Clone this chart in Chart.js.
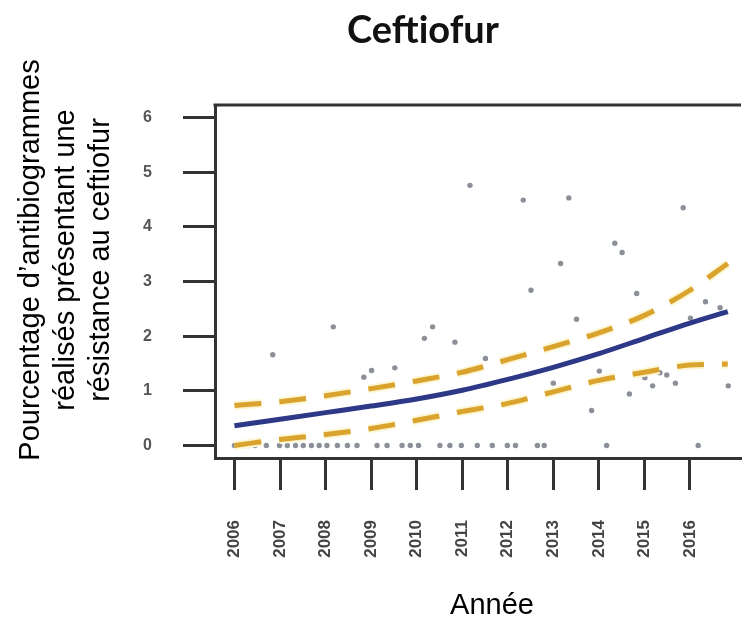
<!DOCTYPE html>
<html>
<head>
<meta charset="utf-8">
<script src="https://cdn.jsdelivr.net/npm/chart.js@4.4.1/dist/chart.umd.min.js"></script>
<style>
  html, body { margin: 0; padding: 0; background: #fff; }
  #wrap { width: 745px; height: 619px; }
</style>
</head>
<body>
<div id="wrap"><canvas id="chart" width="745" height="619"></canvas></div>
<script>
// Ceftiofur - resistance trend (points + fitted curve with confidence band)

// axis ticks
const xTicks = [2006, 2007, 2008, 2009, 2010, 2011, 2012, 2013, 2014, 2015, 2016];
const yTicks = [0, 1, 2, 3, 4, 5, 6];

const obsYears = [
  2006.0, 2006.15, 2006.3, 2006.45, 2006.7, 2006.84,
  2006.99, 2007.16, 2007.34, 2007.51, 2007.69, 2007.86, 2008.03,
  2008.17, 2008.26, 2008.48, 2008.69, 2008.84, 2009.01, 2009.13, 2009.35, 2009.52,
  2009.68, 2009.86, 2010.04, 2010.17, 2010.35, 2010.51, 2010.73, 2010.84, 2010.98,
  2011.17, 2011.33, 2011.51, 2011.66, 2011.99, 2012.17, 2012.34, 2012.51, 2012.65, 2012.8,
  2013.0, 2013.16, 2013.34, 2013.51, 2013.84, 2014.01, 2014.17, 2014.35, 2014.51, 2014.67, 2014.83,
  2015.01, 2015.18, 2015.34, 2015.49, 2015.68, 2015.85, 2016.01, 2016.18, 2016.34, 2016.66, 2016.84
];
const obsValues = [
  0, 0, 0, 0, 0, 1.66,
  0, 0, 0, 0, 0, 0, 0,
  2.17, 0, 0, 0, 1.25, 1.37, 0, 0, 1.42,
  0, 0, 0, 1.96, 2.17, 0, 0, 1.89, 0,
  4.76, 0, 1.59, 0, 0, 0, 4.49, 2.84, 0, 0,
  1.14, 3.33, 4.53, 2.31, 0.64, 1.36, 0, 3.70, 3.53, 0.94, 2.78,
  1.24, 1.09, 1.33, 1.29, 1.14, 4.35, 2.33, 0, 2.63, 2.52, 1.09
];

// fitted trend and confidence limits
const fitYears = [2006, 2007, 2008, 2009, 2010, 2011, 2012, 2013, 2014, 2015, 2016, 2016.83];
const fitMid   = [0.36, 0.48, 0.60, 0.72, 0.85, 1.01, 1.21, 1.43, 1.68, 1.96, 2.24, 2.45];
const fitUpper = [0.73, 0.80, 0.91, 1.04, 1.18, 1.34, 1.57, 1.81, 2.06, 2.38, 2.84, 3.33];
const fitLower = [0.00, 0.11, 0.20, 0.31, 0.46, 0.62, 0.77, 0.98, 1.19, 1.34, 1.47, 1.49];

const toXY = (xs, ys) => xs.map((x, i) => ({ x: x, y: ys[i] }));

const AXIS = '#333333';
const GOLD = '#d9a32e';
const GLOW = '#fdf6d4';
const dash = [27, 18];

// frame top line + free-standing texts
const decor = {
  id: 'decor',
  afterDraw(chart) {
    const { ctx, chartArea } = chart;
    ctx.save();
    ctx.strokeStyle = AXIS;
    ctx.lineWidth = 3;
    ctx.beginPath();
    ctx.moveTo(chartArea.left - 1.5, chartArea.top);
    ctx.lineTo(chartArea.right, chartArea.top);
    ctx.stroke();

    ctx.fillStyle = '#111';
    ctx.textAlign = 'center';
    ctx.textBaseline = 'alphabetic';
    ctx.font = 'bold 38px Lato, "Open Sans", sans-serif';
    ctx.fillText('Ceftiofur', 423, 43);

    ctx.fillStyle = '#000';
    ctx.font = '29px "Liberation Sans", Arial, sans-serif';
    ctx.fillText('Année', 492, 614);

    const lines = ['Pourcentage d’antibiogrammes', 'réalisés présentant une', 'résistance au ceftiofur'];
    const xs = [31, 66, 101];
    ctx.textBaseline = 'middle';
    lines.forEach((t, i) => {
      ctx.save();
      ctx.translate(xs[i], 260);
      ctx.rotate(-Math.PI / 2);
      ctx.fillText(t, 0, 0);
      ctx.restore();
    });
    ctx.restore();
  }
};

new Chart(document.getElementById('chart'), {
  type: 'scatter',
  data: {
    datasets: [
      {
        type: 'line', data: toXY(fitYears, fitMid), order: 1,
        borderColor: '#2d3987', borderWidth: 5, pointRadius: 0,
        cubicInterpolationMode: 'monotone', fill: false
      },
      {
        type: 'line', data: toXY(fitYears, fitUpper), order: 2,
        borderColor: GOLD, borderWidth: 5, borderDash: dash, pointRadius: 0,
        cubicInterpolationMode: 'monotone', fill: false
      },
      {
        type: 'line', data: toXY(fitYears, fitLower), order: 2,
        borderColor: GOLD, borderWidth: 5, borderDash: dash, pointRadius: 0,
        cubicInterpolationMode: 'monotone', fill: false
      },
      {
        type: 'line', data: toXY(fitYears, fitUpper), order: 3,
        borderColor: GLOW, borderWidth: 9, borderDash: dash, pointRadius: 0,
        cubicInterpolationMode: 'monotone', fill: false
      },
      {
        type: 'line', data: toXY(fitYears, fitLower), order: 3,
        borderColor: GLOW, borderWidth: 9, borderDash: dash, pointRadius: 0,
        cubicInterpolationMode: 'monotone', fill: false
      },
      {
        data: toXY(obsYears, obsValues), order: 4,
        pointRadius: 2.7, pointBackgroundColor: '#8b9098', pointBorderWidth: 0
      }
    ]
  },
  options: {
    responsive: false,
    animation: false,
    devicePixelRatio: 1,
    layout: { padding: { top: 105, left: 0, right: 0, bottom: 0 } },
    plugins: { legend: { display: false }, tooltip: { enabled: false } },
    scales: {
      x: {
        type: 'linear', min: 2005.573, max: 2017.12,
        afterBuildTicks: s => { s.ticks = xTicks.map(v => ({ value: v })); },
        afterFit: s => { s.height = 161; },
        border: { color: AXIS, width: 3 },
        grid: { drawOnChartArea: false, tickLength: 32, tickWidth: 3, tickColor: AXIS },
        ticks: {
          autoSkip: false, minRotation: 90, maxRotation: 90, padding: 30,
          color: '#444', font: { family: '"Liberation Sans", Arial, sans-serif', size: 17, weight: 'bold' },
          callback: v => String(v)
        }
      },
      y: {
        min: -0.23, max: 6.23,
        afterBuildTicks: s => { s.ticks = yTicks.map(v => ({ value: v })); },
        afterFit: s => { s.width = 215; },
        border: { color: AXIS, width: 3 },
        grid: { drawOnChartArea: false, tickLength: 32, tickWidth: 3, tickColor: AXIS },
        ticks: {
          padding: 31, color: '#555',
          font: { family: '"Liberation Sans", Arial, sans-serif', size: 16, weight: 'bold' },
          callback: v => String(v)
        }
      }
    }
  },
  plugins: [decor]
});
</script>
</body>
</html>
